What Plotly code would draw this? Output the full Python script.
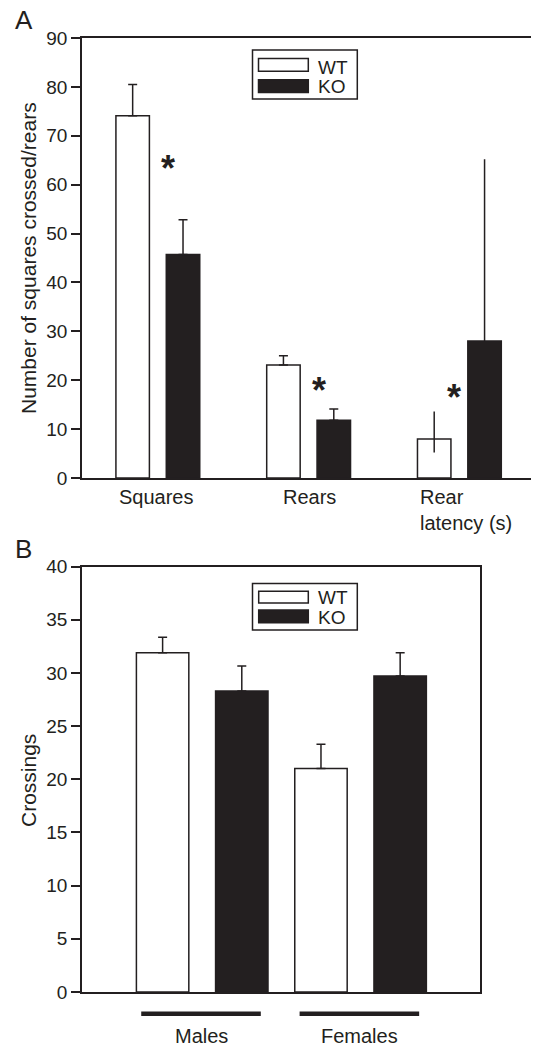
import plotly.graph_objects as go

# ---------------- data ----------------
# Panel A
a_categories = ["Squares", "Rears", "Rear<br>latency (s)"]
a_wt_mean = [74.1, 23.1, 8.0]
a_wt_sem_up = [6.4, 1.9, 5.6]
a_wt_sem_down = [0.0, 0.0, 2.8]
a_ko_mean = [45.7, 11.8, 28.0]
a_ko_sem_up = [7.1, 2.3, 37.2]
a_sig_y = [64.5, 19.2, 17.6]          # heights of the significance asterisks
a_yticks = list(range(0, 91, 10))

# Panel B
b_categories = ["Males", "Females"]
b_wt_mean = [31.9, 21.0]
b_wt_sem = [1.45, 2.3]
b_ko_mean = [28.3, 29.7]
b_ko_sem = [2.35, 2.2]
b_yticks = list(range(0, 41, 5))

groups = ["WT", "KO"]

# ---------------- layout constants ----------------
W, H = 533, 1046
ML, MR, MT, MB = 82, 2, 38, 54
PW, PH = W - ML - MR, H - MT - MB
INK = "#231f20"
FONT = "Liberation Sans, Arial, Helvetica, sans-serif"


def px(x):
    return (x - ML) / PW


def py(y):
    return (H - MB - y) / PH


a_x = list(range(len(a_categories)))
b_x = list(range(len(b_categories)))

fig = go.Figure()

# ---- Panel A bars ----
a_w = 0.222
a_off_wt = -0.168 - a_w / 2
a_off_ko = 0.166 - a_w / 2
err_style = dict(type="data", symmetric=False, color=INK, thickness=1.5)

fig.add_trace(go.Bar(
    x=a_x[:2], y=a_wt_mean[:2], width=a_w, offset=a_off_wt,
    marker=dict(color="white", line=dict(color=INK, width=1.5)),
    error_y=dict(array=a_wt_sem_up[:2], arrayminus=a_wt_sem_down[:2], width=4.5, **err_style),
    xaxis="x", yaxis="y", showlegend=False, hoverinfo="y"))
fig.add_trace(go.Bar(
    x=a_x[2:], y=a_wt_mean[2:], width=a_w, offset=a_off_wt,
    marker=dict(color="white", line=dict(color=INK, width=1.5)),
    error_y=dict(array=a_wt_sem_up[2:], arrayminus=a_wt_sem_down[2:], width=0, **err_style),
    xaxis="x", yaxis="y", showlegend=False, hoverinfo="y"))
fig.add_trace(go.Bar(
    x=a_x[:2], y=a_ko_mean[:2], width=a_w, offset=a_off_ko,
    marker=dict(color=INK, line=dict(color=INK, width=1.5)),
    error_y=dict(array=a_ko_sem_up[:2], arrayminus=[0] * 2, width=4.5, **err_style),
    xaxis="x", yaxis="y", showlegend=False, hoverinfo="y"))
fig.add_trace(go.Bar(
    x=a_x[2:], y=a_ko_mean[2:], width=a_w, offset=a_off_ko,
    marker=dict(color=INK, line=dict(color=INK, width=1.5)),
    error_y=dict(array=a_ko_sem_up[2:], arrayminus=[0], width=0, **err_style),
    xaxis="x", yaxis="y", showlegend=False, hoverinfo="y"))

# ---- Panel B bars ----
b_w = 0.331
fig.add_trace(go.Bar(
    x=b_x, y=b_wt_mean, width=b_w, offset=-0.25 - b_w / 2,
    marker=dict(color="white", line=dict(color=INK, width=1.5)),
    error_y=dict(array=b_wt_sem, arrayminus=[0] * 2, width=4.5, **err_style),
    xaxis="x2", yaxis="y2", showlegend=False, hoverinfo="y"))
fig.add_trace(go.Bar(
    x=b_x, y=b_ko_mean, width=b_w, offset=0.25 - b_w / 2,
    marker=dict(color=INK, line=dict(color=INK, width=1.5)),
    error_y=dict(array=b_ko_sem, arrayminus=[0] * 2, width=4.5, **err_style),
    xaxis="x2", yaxis="y2", showlegend=False, hoverinfo="y"))

annotations = []
shapes = []

# asterisks (panel A)
sig_dx = [0.066, 0.068, -0.036]
for i, yv in enumerate(a_sig_y):
    annotations.append(dict(x=a_x[i] + sig_dx[i], y=yv, xref="x", yref="y", text="<b>*</b>",
                            showarrow=False, font=dict(size=36, color=INK, family=FONT),
                            xanchor="center", yanchor="middle", yshift=-6))

# category labels (panel A)
lab_shift = [-1, 1, 6.5]
for i, c in enumerate(a_categories):
    annotations.append(dict(x=a_x[i], y=py(478), xref="x", yref="paper", text=c,
                            showarrow=False, align="left", xanchor="center", yanchor="top",
                            xshift=lab_shift[i], yshift=-6,
                            font=dict(size=20, color=INK, family=FONT)))

# category labels (panel B)
for i, c in enumerate(b_categories):
    annotations.append(dict(x=b_x[i], y=py(1036), xref="x2", yref="paper", text=c,
                            showarrow=False, xanchor="center", yanchor="middle",
                            xshift=-1,
                            font=dict(size=20, color=INK, family=FONT)))

# axis titles
annotations.append(dict(x=px(28), y=py(258), xref="paper", yref="paper",
                        text="Number of squares crossed/rears", textangle=-90,
                        showarrow=False, xanchor="center", yanchor="middle",
                        font=dict(size=21, color=INK, family=FONT)))
annotations.append(dict(x=px(28), y=py(781), xref="paper", yref="paper",
                        text="Crossings", textangle=-90,
                        showarrow=False, xanchor="center", yanchor="middle",
                        font=dict(size=21, color=INK, family=FONT)))

# panel letters
for letter, (cx, cy) in zip(["A", "B"], [(24, 20), (24, 549)]):
    annotations.append(dict(x=px(cx), y=py(cy), xref="paper", yref="paper", text=letter,
                            showarrow=False, xanchor="center", yanchor="middle",
                            font=dict(size=26, color=INK, family=FONT)))

# custom legends
def add_legend(box, sw_wt, sw_ko, txt_x, txt_y):
    x0, y0, x1, y1 = box
    shapes.append(dict(type="rect", xref="paper", yref="paper", x0=px(x0), x1=px(x1),
                       y0=py(y1), y1=py(y0), line=dict(color=INK, width=1.5),
                       fillcolor="white", layer="above"))
    for (sx0, sy0, sx1, sy1), fill in [(sw_wt, "white"), (sw_ko, INK)]:
        shapes.append(dict(type="rect", xref="paper", yref="paper", x0=px(sx0), x1=px(sx1),
                           y0=py(sy1), y1=py(sy0), line=dict(color=INK, width=1.5),
                           fillcolor=fill, layer="above"))
    for g, ty in zip(groups, txt_y):
        annotations.append(dict(x=px(txt_x), y=py(ty), xref="paper", yref="paper", text=g,
                                showarrow=False, xanchor="left", yanchor="middle",
                                font=dict(size=19, color=INK, family=FONT)))

add_legend((252.5, 50, 357.3, 99), (258.5, 58.5, 308.3, 71.3), (258.5, 79.8, 308.3, 92.5),
           316, (67, 87))
add_legend((252.5, 583.5, 357.3, 630), (258.7, 591.3, 308.3, 603), (258.7, 610, 308.3, 622.7),
           316, (597.5, 618))

# group underlines (panel B)
for i in b_x:
    shapes.append(dict(type="line", xref="x2", yref="paper", x0=i - 0.385, x1=i + 0.37,
                       y0=py(1013.7), y1=py(1013.7), line=dict(color=INK, width=4.5)))

axis_common = dict(showline=True, linecolor=INK, linewidth=1.5, showgrid=False,
                   zeroline=False, automargin=False)

fig.update_layout(
    template="none",
    width=W, height=H,
    margin=dict(l=ML, r=MR, t=MT, b=MB, autoexpand=False),
    paper_bgcolor="white", plot_bgcolor="white",
    barmode="overlay",
    font=dict(family=FONT, color=INK),
    xaxis=dict(domain=[0, 1], range=[-0.504, 2.474], anchor="y", mirror=True,
               showticklabels=False, ticks="", **axis_common),
    yaxis=dict(domain=[py(478), 1], range=[0, 90], anchor="x", tickvals=a_yticks,
               ticks="outside", ticklen=9, tickwidth=1.5, tickcolor=INK,
               tickfont=dict(size=19, color=INK, family=FONT), **axis_common),
    xaxis2=dict(domain=[0, px(479.5)], range=[-0.759, 1.751], anchor="y2", mirror=True,
                showticklabels=False, ticks="", **axis_common),
    yaxis2=dict(domain=[0, py(566.5)], range=[0, 40], anchor="x2", mirror=True,
                tickvals=b_yticks, ticks="outside", ticklen=9, tickwidth=1.5, tickcolor=INK,
                tickfont=dict(size=19, color=INK, family=FONT), **axis_common),
    annotations=annotations,
    shapes=shapes,
)

fig.write_html(
    "out.html",
    config={"displayModeBar": False},
    post_script="document.body.style.margin='0';document.body.style.padding='0';"
                "document.body.style.overflow='hidden';",
)
